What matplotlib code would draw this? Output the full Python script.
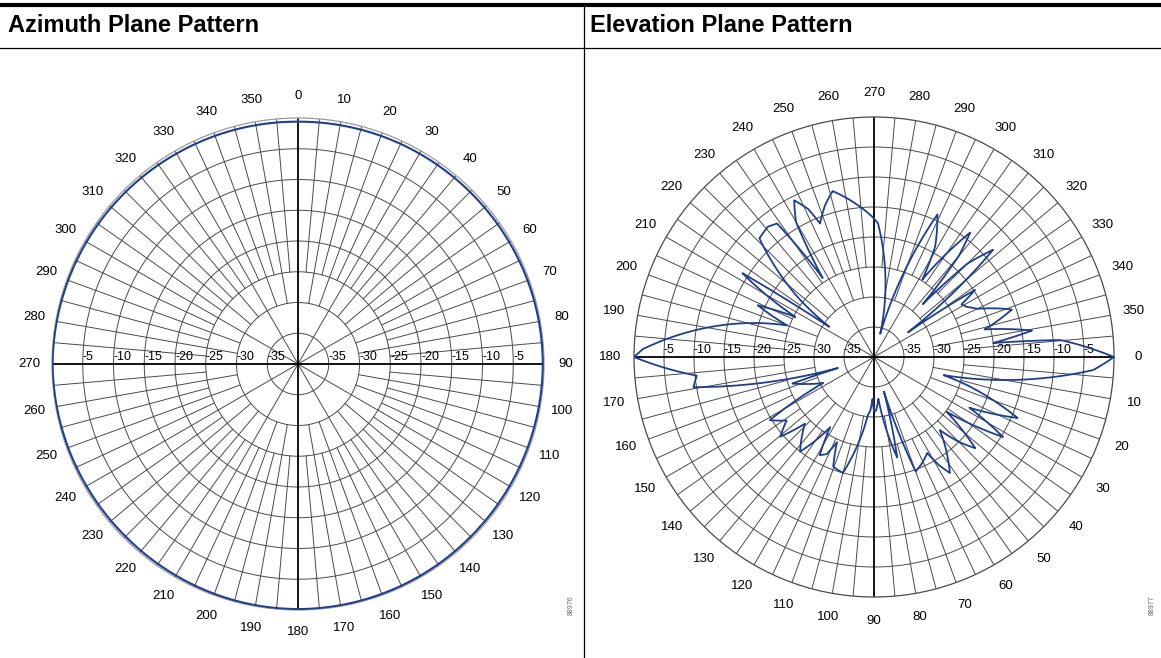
import matplotlib
matplotlib.use("Agg")
import matplotlib.pyplot as plt
import numpy as np

# ---------------- data ----------------
ring_levels = [-35, -30, -25, -20, -15, -10, -5]
ring_labels = ["-35", "-30", "-25", "-20", "-15", "-10", "-5"]
angle_labels = list(range(0, 360, 10))

az_angles = [0, 15, 30, 45, 60, 75, 90, 105, 120, 135, 150, 165, 180,
             195, 210, 225, 240, 255, 270, 285, 300, 315, 330, 345, 360]
az_db = [-0.6, -0.55, -0.5, -0.45, -0.35, -0.25, -0.2, -0.25, -0.3, -0.3, -0.25, -0.2, -0.15,
         -0.2, -0.3, -0.35, -0.3, -0.2, -0.1, -0.2, -0.3, -0.4, -0.5, -0.55, -0.6]

elev_angles = [0, 2, 3.4, 5, 6, 7.4, 8.5, 10, 11.8, 14.6, 16.8, 20, 23, 25.5, 28, 31.8, 34, 37,
               42, 45, 48, 53, 56.8, 59, 61, 66, 70, 72, 74, 77, 80, 84, 88, 90, 92, 94, 96,
               99, 102, 105, 107, 110.4, 113.5, 116, 119, 122, 125, 128, 130, 132, 136, 139.6,
               144, 148.8, 151, 153, 155.7, 158, 160, 162, 163, 165, 166.5, 169, 170.5, 172.5,
               174, 176.5, 178, 180, 182, 184.6, 187.7, 190, 192.5, 194, 195.7, 198, 200, 204,
               207, 210, 212.5, 214, 218, 222, 226, 230.8, 234, 237, 240, 243, 246, 248, 252,
               256, 261.5, 265, 267, 269, 271.7, 274, 277, 280, 283, 285, 288, 291, 294, 297,
               299, 302, 305, 307.7, 310, 312.7, 315, 318, 321, 324, 326.4, 329, 331.7, 335,
               338, 341, 344, 346, 349, 350.5, 352, 353.3, 353.7, 354.8, 356, 358, 360]
elev_db = [0, -1.2, -3.4, -8, -14.4, -19.4, -18.5, -16, -19, -28, -23.8, -18, -14, -18, -22,
           -14.7, -19, -24.8, -17.3, -20, -23.6, -19, -16.9, -19, -21.7, -20.5, -19.7, -27,
           -34, -22.8, -28, -33, -31, -31, -33, -31, -30.3, -27, -23.6, -20, -22, -20.5,
           -24.5, -22, -21.3, -26.2, -23, -20, -23, -22, -24, -19.5, -22, -19.7, -26, -30.5,
           -23.4, -28, -33, -25.7, -33.7, -24, -20, -10.5, -9.5, -13.3, -10.3, -4.3, -1.5, 0,
           -1.5, -4.7, -10.2, -11, -13.7, -11, -13, -16.5, -24.6, -18.8, -25.3, -17, -14, -31,
           -24, -16, -12.5, -12, -12.5, -24.3, -14, -10.7, -13, -16, -13.5, -11.5, -13, -13.5,
           -15, -16.5, -17.7, -23, -29, -28.7, -32, -36, -30, -20, -14, -14.7, -19, -24.8, -18,
           -13.8, -18, -28, -18, -13.3, -20, -33, -19.8, -23, -22.4, -21, -16.5, -15.7, -19,
           -21, -15, -13.3, -17, -20, -14.3, -8.8, -4, -1, 0]

titles = ["Azimuth Plane Pattern", "Elevation Plane Pattern"]
figure_ids = ["88976", "88977"]

# ---------------- style ----------------
W, H = 1161, 658
FONT = ["Liberation Sans", "DejaVu Sans"]
TITLE_FONT = ["Liberation Sans", "DejaVu Sans"]
GRID = "#4a4a4a"
BLUE = "#1f3f8c"

fig = plt.figure(figsize=(W / 100, H / 100), dpi=100)

# background overlay for header lines and titles
bg = fig.add_axes([0, 0, 1, 1], zorder=0)
bg.set_xlim(0, W)
bg.set_ylim(H, 0)
bg.axis("off")
bg.plot([0, W], [4.5, 4.5], color="black", lw=3.0, solid_capstyle="butt")
bg.plot([0, W], [47.5, 47.5], color="black", lw=0.9)
bg.plot([584, 584], [5, 657], color="black", lw=0.9)
bg.text(8, 26, titles[0], fontsize=17, fontweight="bold", family=TITLE_FONT,
        ha="left", va="center")
bg.text(590, 26, titles[1], fontsize=17, fontweight="bold", family=TITLE_FONT,
        ha="left", va="center")
bg.text(571, 605, figure_ids[0], fontsize=5, rotation=90, color="#666666",
        ha="center", va="center", family=FONT)
bg.text(1152, 605, figure_ids[1], fontsize=5, rotation=90, color="#666666",
        ha="center", va="center", family=FONT)


def polar_axes(cx, cy, R):
    rect = [(cx - R) / W, (H - (cy + R)) / H, 2 * R / W, 2 * R / H]
    return fig.add_axes(rect, projection="polar", zorder=2)


def curved(line, steps=40):
    # let the polar transform draw each segment as an arc
    line.get_path()._interpolation_steps = steps


def draw_grid(ax, right_angle, left_angle, outer_color, label_r):
    ax.set_ylim(-40, 0)
    ax.set_xticks([])
    ax.set_yticks([])
    ax.grid(False)
    ax.patch.set_alpha(0)
    ax.spines["polar"].set_color(outer_color)
    ax.spines["polar"].set_linewidth(0.9)
    full = np.linspace(0, 2 * np.pi, 721)
    for lv in ring_levels:
        ax.plot(full, np.full_like(full, lv), color=GRID, lw=0.7, zorder=1)
    for a in range(0, 360, 5):
        if a % 90 == 0:
            continue
        start = -40 if a % 30 == 0 else (-30 if a % 10 == 0 else -25)
        ax.plot([np.deg2rad(a)] * 2, [start, 0], color=GRID, lw=0.7, zorder=1)
    for a in (0, 90, 180, 270):
        ax.plot([np.deg2rad(a)] * 2, [-40, 0], color="black", lw=1.3, zorder=2)
    for lv, lab in zip(ring_levels, ring_labels):
        for side in (right_angle, left_angle):
            ax.annotate(lab, xy=(np.deg2rad(side), lv), xytext=(0, 1),
                        textcoords="offset points", ha="left", va="bottom",
                        fontsize=9, family=FONT, zorder=3)
    for a in angle_labels:
        ax.text(np.deg2rad(a), label_r, str(a), ha="center", va="center",
                fontsize=9.5, family=FONT)


# azimuth
ax1 = polar_axes(298, 364, 246)
ax1.set_theta_zero_location("N")
ax1.set_theta_direction(-1)
draw_grid(ax1, 90, 270, "#9a9a9a", 3.6)
(l1,) = ax1.plot(np.deg2rad(az_angles), az_db, color=BLUE, lw=1.5, zorder=4)
curved(l1)

# elevation
ax2 = polar_axes(874, 357, 240)
ax2.set_theta_zero_location("E")
ax2.set_theta_direction(-1)
draw_grid(ax2, 0, 180, GRID, 4.0)
(l2,) = ax2.plot(np.deg2rad(elev_angles), elev_db, color=BLUE, lw=1.3, zorder=4)
curved(l2, 20)

fig.savefig("out.png", dpi=100)
